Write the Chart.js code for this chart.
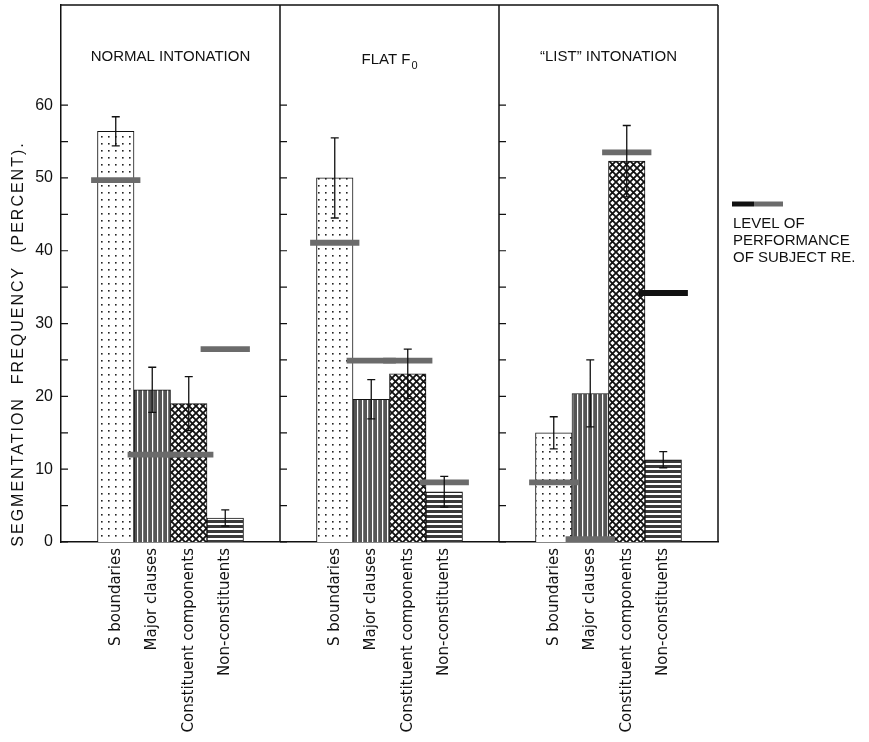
<!DOCTYPE html>
<html>
<head>
<meta charset="utf-8">
<script src="https://cdn.jsdelivr.net/npm/chart.js@4/dist/chart.umd.min.js"></script>
<style>
  body { margin: 0; background: #fff; }
  canvas { display: block; }
</style>
</head>
<body>
<canvas id="chart" width="869" height="742"></canvas>
<script>
// Segmentation frequency under three intonation conditions
const groupLabels = ['S boundaries', 'Major clauses', 'Constituent components', 'Non-constituents'];
const panelTitles = ['NORMAL INTONATION', 'FLAT F', '\u201CLIST\u201D INTONATION'];

const normalValues = [56.4, 20.9, 19.0, 3.3];
const flatValues = [50.0, 19.6, 23.1, 6.9];
const listValues = [15.0, 20.4, 52.3, 11.3];

const normalErrors = [2.0, 3.1, 3.7, 1.1];
const flatErrors = [5.5, 2.7, 3.4, 2.1];
const listErrors = [2.2, 4.6, 4.9, 1.1];

// level of performance of subject RE
const normalSubjectRE = [49.7, 12.0, 12.0, 26.5];
const flatSubjectRE = [41.1, 24.9, 24.9, 8.2];
const listSubjectRE = [8.2, 0.4, 53.5, 34.2];

const yTickValues = [0, 10, 20, 30, 40, 50, 60];
const yMarkValues = [0, 5, 10, 15, 20, 25, 30, 35, 40, 45, 50, 55, 60];

const FONT = "'Liberation Sans', Arial, sans-serif";
const LABEL_FONT = "'DejaVu Sans', 'Liberation Sans', sans-serif";

// each panel = empty slot, 4 bars, empty slot
function pad(arr) { return [null, ...arr, null]; }
const labels = [].concat(pad(groupLabels), pad(groupLabels), pad(groupLabels)).map(l => l || '');
const values = [].concat(pad(normalValues), pad(flatValues), pad(listValues));
const errors = [].concat(pad(normalErrors), pad(flatErrors), pad(listErrors));
const reLevels = [].concat(pad(normalSubjectRE), pad(flatSubjectRE), pad(listSubjectRE));

const ctx = document.getElementById('chart').getContext('2d');

function makePattern(kind) {
    const c = document.createElement('canvas');
    const g = c.getContext('2d');
    if (kind === 'dots') {
        c.width = 7; c.height = 7;
        g.fillStyle = '#fff'; g.fillRect(0, 0, 7, 7);
        g.fillStyle = '#222'; g.fillRect(3, 3, 1.6, 1.6);
    } else if (kind === 'vlines') {
        c.width = 5; c.height = 2;
        g.fillStyle = '#555'; g.fillRect(0, 0, 5, 2);
        g.fillStyle = '#fff'; g.fillRect(2, 0, 1.2, 2);
    } else if (kind === 'hatch') {
        c.width = 7; c.height = 7;
        g.fillStyle = '#fff'; g.fillRect(0, 0, 7, 7);
        g.strokeStyle = '#111'; g.lineWidth = 1.8;
        g.beginPath();
        g.moveTo(-1, -1); g.lineTo(8, 8);
        g.moveTo(8, -1); g.lineTo(-1, 8);
        g.stroke();
    } else {
        c.width = 2; c.height = 5;
        g.fillStyle = '#fff'; g.fillRect(0, 0, 2, 5);
        g.fillStyle = '#3a3a3a'; g.fillRect(0, 0, 2, 3);
    }
    return ctx.createPattern(c, 'repeat');
}

const fills = [makePattern('dots'), makePattern('vlines'), makePattern('hatch'), makePattern('hlines')];
const barFills = labels.map((l, i) => fills[(i % 6) - 1] || 'transparent');

// RE line drawn as a thin floating bar
const reHalf = 0.4;
const reBars = reLevels.map(v => v === null ? null : [v - reHalf, v + reHalf]);
const reColors = reLevels.map((v, i) => i === 16 ? '#111' : '#6b6b6b');

const framePlugin = {
    id: 'frame',
    afterDraw(chart) {
        const { ctx, chartArea: a, scales: { x, y } } = chart;
        ctx.save();
        ctx.strokeStyle = '#111';
        ctx.lineWidth = 1.5;
        ctx.beginPath();
        ctx.moveTo(a.left, a.top); ctx.lineTo(a.right, a.top);
        for (let p = 0; p < 3; p++) {
            const xr = x.getPixelForValue(p * 6 + 5.5);
            ctx.moveTo(xr, a.top); ctx.lineTo(xr, a.bottom);
        }
        ctx.stroke();
        // inward ticks on each panel's left edge
        ctx.lineWidth = 1.2;
        ctx.beginPath();
        for (let p = 0; p < 3; p++) {
            const xl = x.getPixelForValue(p * 6 - 0.5);
            yMarkValues.forEach(v => {
                const yy = y.getPixelForValue(v);
                ctx.moveTo(xl, yy); ctx.lineTo(xl + 7, yy);
            });
        }
        ctx.stroke();

        // panel titles
        ctx.fillStyle = '#111';
        ctx.textBaseline = 'middle';
        ctx.textAlign = 'left';
        const titleY = [57, 60, 57];
        for (let p = 0; p < 3; p++) {
            const xc = (x.getPixelForValue(p * 6 - 0.5) + x.getPixelForValue(p * 6 + 5.5)) / 2;
            ctx.font = '15px ' + FONT;
            const main = panelTitles[p];
            const w = ctx.measureText(main).width;
            if (p === 1) {
                ctx.font = '11px ' + FONT;
                const ws = ctx.measureText('0').width;
                ctx.font = '15px ' + FONT;
                const x0 = xc - (w + ws + 1) / 2;
                ctx.fillText(main, x0, titleY[p]);
                ctx.font = '11px ' + FONT;
                ctx.fillText('0', x0 + w + 1, titleY[p] + 6);
            } else {
                ctx.fillText(main, xc - w / 2, titleY[p]);
            }
        }

        // y axis title
        ctx.save();
        ctx.translate(19, 344);
        ctx.rotate(-Math.PI / 2);
        ctx.font = '16px ' + FONT;
        ctx.textAlign = 'center';
        if ('letterSpacing' in ctx) ctx.letterSpacing = '2px';
        ctx.fillText('SEGMENTATION  FREQUENCY  (PERCENT).', 0, 0);
        ctx.restore();

        // key
        ctx.lineWidth = 5;
        ctx.strokeStyle = '#111';
        ctx.beginPath(); ctx.moveTo(732, 204); ctx.lineTo(754, 204); ctx.stroke();
        ctx.strokeStyle = '#6b6b6b';
        ctx.beginPath(); ctx.moveTo(754, 204); ctx.lineTo(783, 204); ctx.stroke();
        ctx.font = '15px ' + FONT;
        ctx.textAlign = 'left';
        ctx.fillText('LEVEL OF', 733, 224);
        ctx.fillText('PERFORMANCE', 733, 241);
        ctx.fillText('OF SUBJECT RE.', 733, 258);
        ctx.restore();
    }
};

const errorBarPlugin = {
    id: 'errorBars',
    afterDatasetsDraw(chart) {
        const { ctx, scales: { y } } = chart;
        const meta = chart.getDatasetMeta(0);
        ctx.save();
        ctx.strokeStyle = '#111';
        ctx.lineWidth = 1.3;
        ctx.beginPath();
        values.forEach((v, i) => {
            if (v === null) return;
            const xc = meta.data[i].x;
            const yt = y.getPixelForValue(v + errors[i]);
            const yb = y.getPixelForValue(v - errors[i]);
            ctx.moveTo(xc, yt); ctx.lineTo(xc, yb);
            ctx.moveTo(xc - 4, yt); ctx.lineTo(xc + 4, yt);
            ctx.moveTo(xc - 4, yb); ctx.lineTo(xc + 4, yb);
        });
        ctx.stroke();
        ctx.restore();
    }
};

new Chart(ctx, {
    type: 'bar',
    data: {
        labels: labels,
        datasets: [{
            label: 'Segmentation frequency',
            data: values,
            backgroundColor: barFills,
            borderColor: '#111',
            borderWidth: 1,
            barPercentage: 1,
            categoryPercentage: 1,
            grouped: false,
            order: 2
        }, {
            label: 'Level of performance of subject RE',
            data: reBars,
            backgroundColor: reColors,
            borderWidth: 0,
            barPercentage: 1.35,
            categoryPercentage: 1,
            grouped: false,
            order: 1
        }]
    },
    options: {
        responsive: false,
        animation: false,
        layout: { padding: { top: 5, right: 151, left: 0, bottom: 0 } },
        plugins: {
            legend: { display: false },
            tooltip: { enabled: false }
        },
        scales: {
            x: {
                grid: { display: false },
                border: { display: true, color: '#111', width: 1.5 },
                ticks: {
                    autoSkip: false,
                    minRotation: 90,
                    maxRotation: 90,
                    padding: -2,
                    color: '#111',
                    font: { family: LABEL_FONT, size: 15 }
                },
                afterFit(scale) { scale.height = 200; }
            },
            y: {
                min: 0,
                max: 73.75,
                afterBuildTicks(scale) { scale.ticks = yTickValues.map(v => ({ value: v })); },
                grid: { display: false },
                border: { display: true, color: '#111', width: 1.5 },
                ticks: {
                    padding: 0,
                    color: '#111',
                    font: { family: FONT, size: 16, lineHeight: 0.4 }
                },
                afterFit(scale) { scale.width = 61; }
            }
        }
    },
    plugins: [framePlugin, errorBarPlugin]
});
</script>
</body>
</html>
